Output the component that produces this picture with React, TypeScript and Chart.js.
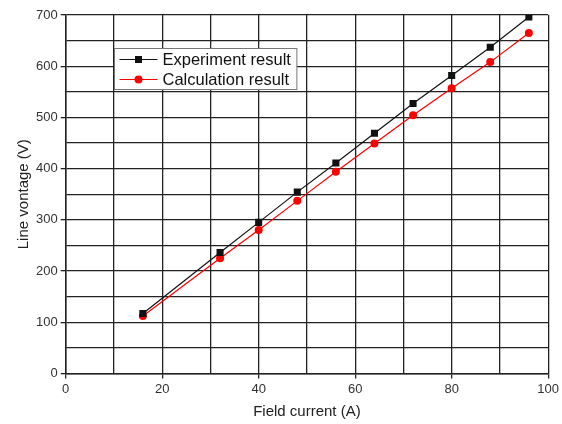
import React, { useEffect, useRef } from "react";
import { Chart, registerables } from "chart.js";

Chart.register(...registerables);

const fieldCurrent = [16, 32, 40, 48, 56, 64, 72, 80, 88, 96];
const experimentResult = [117, 236, 295, 354, 411, 469, 527, 582, 637, 696];
const calculationResult = [112, 225, 280, 337, 394, 449, 504, 557, 608, 665];
const seriesNames = ["Experiment result", "Calculation result"];
const xTitle = "Field current (A)";
const yTitle = "Line vontage (V)";

const FONT = "'Liberation Sans', Arial, sans-serif";

const legendPlugin = {
  id: "insideLegend",
  afterDraw(chart: any) {
    const { ctx, chartArea } = chart;
    const w = chartArea.right - chartArea.left;
    const h = chartArea.bottom - chartArea.top;
    const x0 = Math.round(chartArea.left + 0.101 * w) + 0.5;
    const y0 = Math.round(chartArea.top + 0.092 * h) + 0.5;
    ctx.save();
    ctx.font = `16.5px ${FONT}`;
    const tw = Math.max(...seriesNames.map((s) => ctx.measureText(s).width));
    const bw = 48 + tw + 6;
    const bh = 41;
    ctx.fillStyle = "#ffffff";
    ctx.fillRect(x0, y0, bw, bh);
    ctx.strokeStyle = "#777";
    ctx.lineWidth = 1;
    ctx.strokeRect(x0, y0, bw, bh);
    const cols = ["#111111", "#ff0000"];
    seriesNames.forEach((name, i) => {
      const cy = y0 + 11 + i * 20;
      ctx.strokeStyle = cols[i];
      ctx.lineWidth = 1.2;
      ctx.beginPath();
      ctx.moveTo(x0 + 5, cy);
      ctx.lineTo(x0 + 43, cy);
      ctx.stroke();
      ctx.fillStyle = cols[i];
      if (i === 0) {
        ctx.fillRect(x0 + 24 - 3.5, cy - 3.5, 7, 7);
      } else {
        ctx.beginPath();
        ctx.arc(x0 + 24, cy, 4, 0, Math.PI * 2);
        ctx.fill();
      }
      ctx.fillStyle = "#111";
      ctx.textBaseline = "middle";
      ctx.textAlign = "left";
      ctx.fillText(name, x0 + 48, cy + 1);
    });
    ctx.restore();
  },
};

export default function App() {
  const ref = useRef<HTMLCanvasElement | null>(null);
  useEffect(() => {
    document.body.style.margin = "0";
    const canvas = ref.current!;
    const chart = new Chart(canvas, {
      type: "line",
      data: {
        datasets: [
          {
            label: seriesNames[0],
            data: fieldCurrent.map((x, i) => ({ x, y: experimentResult[i] })),
            borderColor: "#111111",
            backgroundColor: "#111111",
            borderWidth: 1.2,
            pointStyle: "rect",
            pointRadius: 5,
            pointBorderWidth: 0,
          },
          {
            label: seriesNames[1],
            data: fieldCurrent.map((x, i) => ({ x, y: calculationResult[i] })),
            borderColor: "#ff0000",
            backgroundColor: "#ff0000",
            borderWidth: 1.2,
            pointStyle: "circle",
            pointRadius: 4,
            pointBorderWidth: 0,
          },
        ],
      },
      options: {
        animation: false,
        responsive: false,
        maintainAspectRatio: false,
        layout: { padding: { top: 15, right: 2, left: 15, bottom: 3 } },
        plugins: {
          legend: { display: false },
          tooltip: { enabled: false },
        },
        scales: {
          x: {
            type: "linear",
            min: 0,
            max: 100,
            ticks: {
              stepSize: 10,
              autoSkip: false,
              maxRotation: 0,
              color: "#333",
              font: { family: FONT, size: 13 },
              padding: 3,
              callback: (v: any) => (Number(v) % 20 === 0 ? String(v) : ""),
            },
            grid: {
              color: "#222",
              lineWidth: 1.3,
              tickLength: 5,
              tickColor: (c: any) => (c.tick && c.tick.value % 20 === 0 ? "#222" : "rgba(0,0,0,0)"),
            },
            border: { color: "#222", width: 1.5 },
            title: {
              display: true,
              text: xTitle,
              color: "#222",
              font: { family: FONT, size: 15 },
              padding: { top: 3, bottom: 0 },
            },
          },
          y: {
            type: "linear",
            min: 0,
            max: 700,
            ticks: {
              stepSize: 50,
              autoSkip: false,
              color: "#333",
              font: { family: FONT, size: 13 },
              padding: 3,
              callback: (v: any) => (Number(v) % 100 === 0 ? String(v) : ""),
            },
            grid: {
              color: "#222",
              lineWidth: 1.3,
              tickLength: 5,
              tickColor: (c: any) => (c.tick && c.tick.value % 100 === 0 ? "#222" : "rgba(0,0,0,0)"),
            },
            border: { color: "#222", width: 1.5 },
            title: {
              display: true,
              text: yTitle,
              color: "#222",
              font: { family: FONT, size: 15 },
              padding: { top: 0, bottom: 0 },
            },
          },
        },
      },
      plugins: [legendPlugin],
    });
    return () => chart.destroy();
  }, []);
  return (
    <div style={{ width: 562, height: 424, background: "#fff" }}>
      <canvas ref={ref} width={562} height={424} style={{ display: "block" }} />
    </div>
  );
}
